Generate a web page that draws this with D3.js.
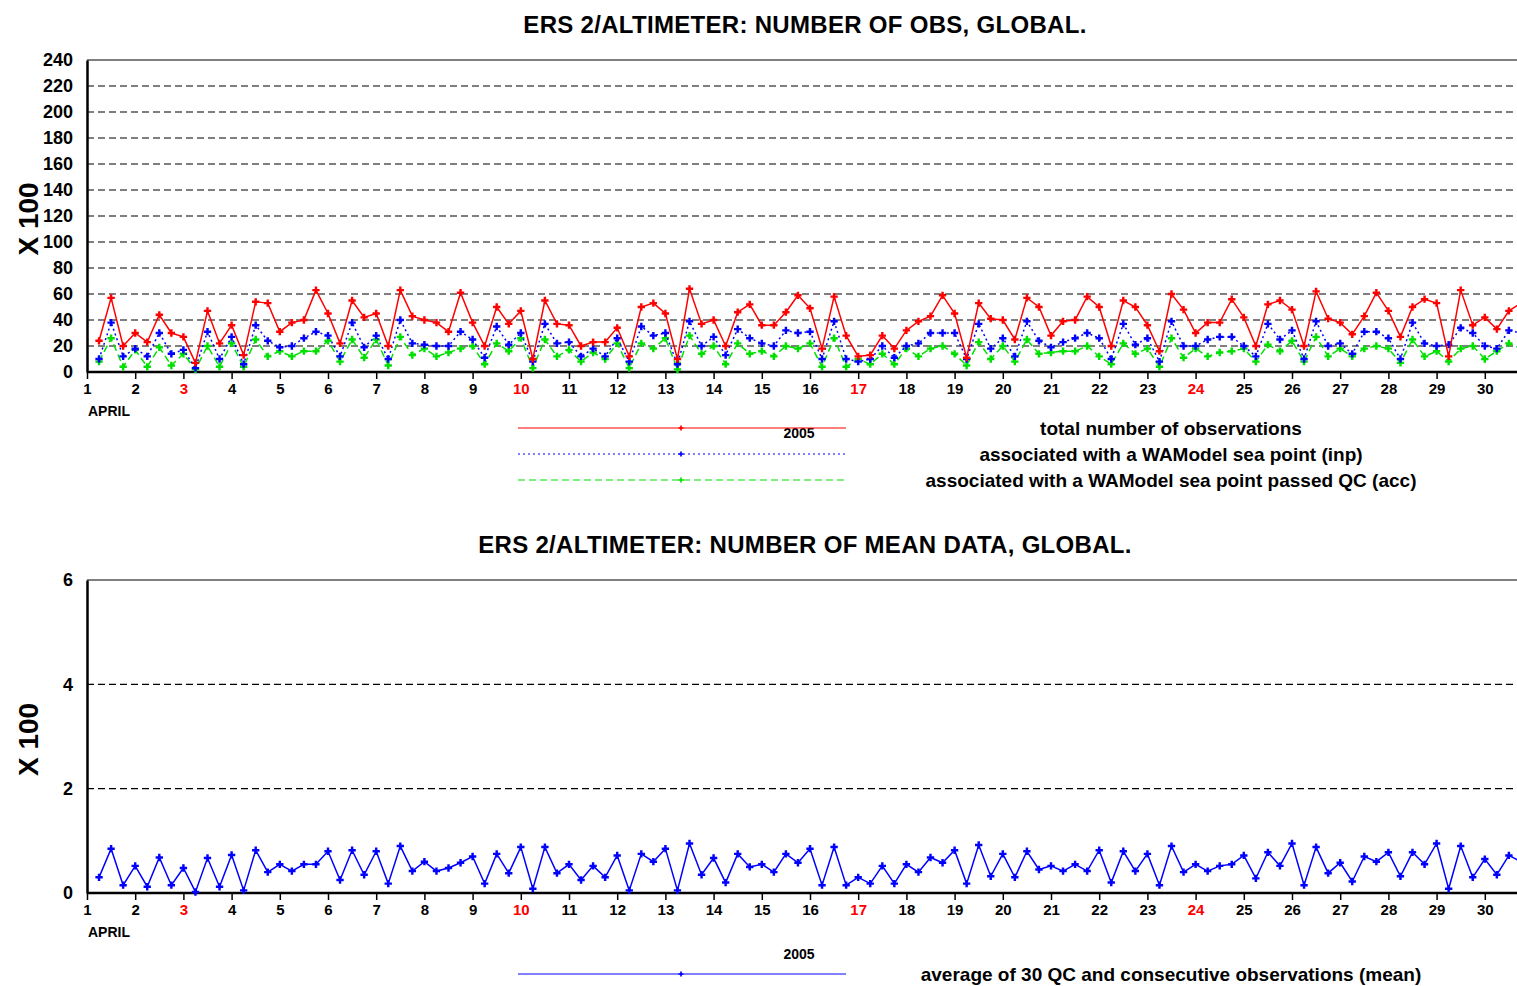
<!DOCTYPE html>
<html><head><meta charset="utf-8">
<script src="https://cdn.jsdelivr.net/npm/d3@7"></script>
<style>body{margin:0;background:#fff}text{font-family:"Liberation Sans",Arial,sans-serif;font-weight:bold}</style>
</head><body><svg id="c" width="1517" height="986"></svg>
<script>
// 6-hourly values, starting 1 April 06h
var totalObs = [24,57,20,30,23,44,30,27,7,47,22,36,13,54,53,31,38,40,63,45,22,55,42,45,20,63,43,40,38,31,61,38,20,50,37,47,10,55,37,36,20,23,23,34,12,50,53,45,10,64,37,40,20,46,52,36,36,46,59,49,18,58,28,12,13,28,18,32,39,43,59,45,11,53,41,40,25,57,50,28,39,40,58,50,20,55,50,36,16,60,48,30,38,38,56,42,20,52,55,48,20,62,41,38,29,43,61,47,27,50,56,53,12,63,36,42,33,47,53];
var inpObs = [10,38,12,18,12,30,14,17,3,31,10,27,6,36,24,19,20,26,31,28,12,38,19,28,10,40,22,21,20,20,31,25,11,35,21,30,8,37,22,23,12,18,12,26,8,35,28,30,6,39,20,27,13,33,26,22,20,32,30,31,10,39,10,8,10,20,11,20,22,30,30,30,10,37,18,26,12,39,24,19,23,26,30,26,10,37,21,26,8,39,20,20,25,27,27,20,12,37,25,32,10,39,20,22,14,31,31,26,10,38,22,20,21,34,30,20,18,32,30];
var accObs = [8,26,4,17,4,19,5,14,2,20,4,22,4,25,12,16,12,16,16,24,8,25,11,25,5,27,13,18,12,15,18,20,6,22,16,26,3,25,12,17,8,15,10,22,3,22,18,26,2,28,14,20,6,22,14,16,12,20,18,22,4,26,4,10,6,14,6,18,12,18,20,14,5,23,10,20,8,25,14,15,16,16,20,12,6,22,14,18,4,26,11,18,12,15,16,18,8,21,16,24,8,27,12,18,12,18,20,18,7,25,12,16,8,18,20,10,16,22,18];
var meanObs = [0.3,0.85,0.15,0.52,0.12,0.68,0.15,0.48,0.02,0.67,0.12,0.73,0.05,0.82,0.4,0.55,0.42,0.55,0.55,0.8,0.25,0.82,0.35,0.8,0.18,0.9,0.42,0.6,0.42,0.48,0.58,0.7,0.18,0.75,0.38,0.88,0.08,0.88,0.38,0.55,0.25,0.52,0.3,0.72,0.05,0.75,0.6,0.85,0.05,0.95,0.35,0.67,0.2,0.75,0.5,0.55,0.4,0.75,0.58,0.85,0.15,0.88,0.15,0.3,0.18,0.52,0.18,0.55,0.4,0.68,0.58,0.82,0.18,0.92,0.32,0.75,0.3,0.8,0.45,0.52,0.42,0.55,0.42,0.82,0.2,0.8,0.42,0.75,0.15,0.9,0.4,0.55,0.42,0.52,0.55,0.72,0.28,0.78,0.52,0.95,0.15,0.88,0.38,0.58,0.22,0.7,0.6,0.78,0.32,0.78,0.55,0.95,0.08,0.9,0.3,0.65,0.35,0.72,0.6];
var days = d3.range(1, 31);
var redDays = [3, 10, 17, 24];
var topTicks = d3.range(0, 241, 20);
var botTicks = [0, 2, 4, 6];

var svg = d3.select("#c");
var x = d3.scaleLinear().domain([1, 31]).range([87, 1533]);
var dayOf = function(i) { return 1.25 + i * 0.25; };
var FONT = "Liberation Sans, Arial, sans-serif";

svg.append("defs").append("clipPath").attr("id", "clip")
  .append("rect").attr("x", 87).attr("y", 0).attr("width", 1430).attr("height", 986);

function panel(top, bottom, ymax, ticks, title, titleY, series) {
  var y = d3.scaleLinear().domain([0, ymax]).range([bottom, top]);
  svg.append("text").attr("x", 805).attr("y", titleY).attr("text-anchor", "middle")
    .style("font-size", "24px").style("letter-spacing", "0.3px").text(title);
  // dashed grid
  svg.append("g").selectAll("line").data(ticks.filter(function(d){ return d > 0; })).enter()
    .append("line").attr("x1", 87).attr("x2", 1517)
    .attr("y1", function(d){ return y(d); }).attr("y2", function(d){ return y(d); })
    .attr("stroke", "#000").attr("stroke-width", 1.2)
    .attr("stroke-dasharray", function(d){ return d === ymax ? null : "7,4"; });
  // y axis
  var ya = svg.append("g").attr("transform", "translate(87,0)")
    .call(d3.axisLeft(y).tickValues(ticks).tickSize(0).tickPadding(14).tickFormat(d3.format("d")));
  ya.select(".domain").attr("stroke-width", 2.5);
  ya.selectAll("text").style("font-size", "18px").style("font-weight", "bold").style("font-family", FONT);
  // x axis
  var xa = svg.append("g").attr("transform", "translate(0," + bottom + ")")
    .call(d3.axisBottom(x).tickValues(days).tickSize(7).tickPadding(4).tickFormat(d3.format("d")));
  xa.select(".domain").attr("d", "M87,0H1517").attr("stroke-width", 2.5);
  xa.selectAll("line").attr("stroke-width", 1.5);
  xa.selectAll("text").style("font-size", "15px").style("font-weight", "bold").style("font-family", FONT)
    .attr("fill", function(d){ return redDays.indexOf(d) >= 0 ? "#f00" : "#000"; });
  svg.append("text").attr("x", 88).attr("y", bottom + 44).style("font-size", "14px").text("APRIL");
  svg.append("text").attr("transform", "translate(38," + ((top + bottom) / 2 + 3) + ") rotate(-90)")
    .attr("text-anchor", "middle").style("font-size", "28px").text("X 100");
  // series
  var g = svg.append("g").attr("clip-path", "url(#clip)");
  series.forEach(function(s) {
    var line = d3.line().x(function(d, i){ return x(dayOf(i)); }).y(function(d){ return y(d); });
    g.append("path").datum(s.data).attr("d", line).attr("fill", "none")
      .attr("stroke", s.color).attr("stroke-width", 1.5).attr("stroke-dasharray", s.dash);
    g.selectAll(null).data(s.data).enter().append("path")
      .attr("d", d3.symbol(d3.symbolCross, 30))
      .attr("transform", function(d, i){ return "translate(" + x(dayOf(i)) + "," + y(d) + ")"; })
      .attr("fill", s.color);
  });
  return y;
}

panel(60, 372, 240, topTicks, "ERS 2/ALTIMETER: NUMBER OF OBS, GLOBAL.", 33, [
  {data: accObs, color: "#00e000", dash: "7,4"},
  {data: inpObs, color: "#0000ff", dash: "2,3"},
  {data: totalObs, color: "#ff0000", dash: null}
]);
panel(580, 893, 6, botTicks, "ERS 2/ALTIMETER: NUMBER OF MEAN DATA, GLOBAL.", 553, [
  {data: meanObs, color: "#0000ff", dash: null}
]);

// legends
function legend(yy, color, dash, label) {
  svg.append("line").attr("x1", 518).attr("x2", 846).attr("y1", yy).attr("y2", yy)
    .attr("stroke", color).attr("stroke-width", 1.2).attr("stroke-dasharray", dash);
  svg.append("path").attr("d", d3.symbol(d3.symbolCross, 14))
    .attr("transform", "translate(681," + yy + ")").attr("fill", color);
  svg.append("text").attr("x", 1171).attr("y", yy + 7).attr("text-anchor", "middle")
    .style("font-size", "19px").text(label);
}
svg.append("text").attr("x", 799).attr("y", 438).attr("text-anchor", "middle").style("font-size", "14px").text("2005");
legend(428, "#ff0000", null, "total number of observations");
legend(454, "#0000ff", "2,3", "associated with a WAModel sea point (inp)");
legend(480, "#00e000", "7,4", "associated with a WAModel sea point passed QC (acc)");
svg.append("text").attr("x", 799).attr("y", 959).attr("text-anchor", "middle").style("font-size", "14px").text("2005");
legend(974, "#0000ff", null, "average of 30 QC and consecutive observations (mean)");
</script></body></html>
